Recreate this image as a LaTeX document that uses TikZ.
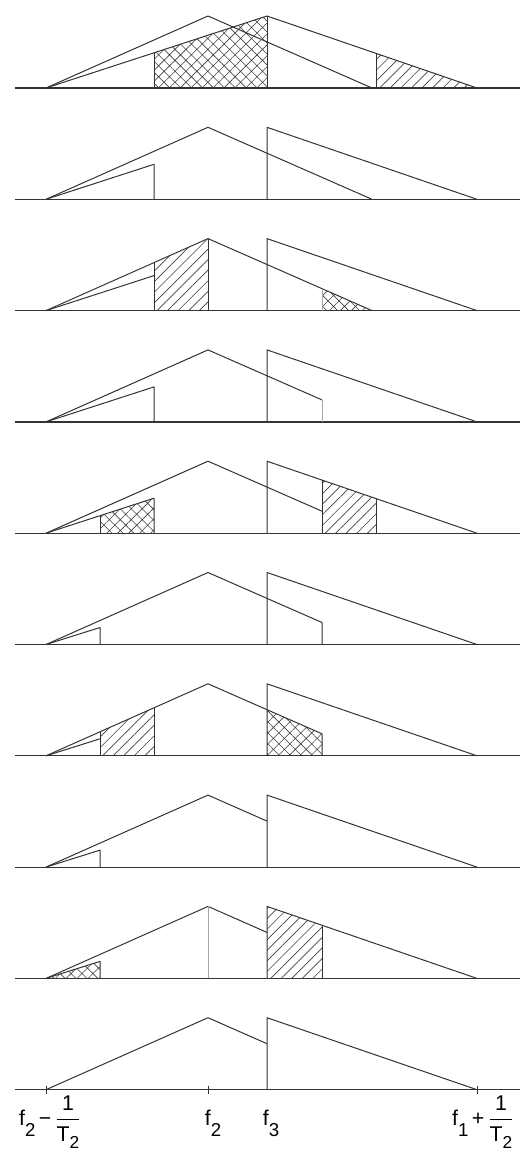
\documentclass[tikz,border=0pt]{standalone}
\usepackage{amsmath}
\usepackage{fontspec}
\setmainfont{Liberation Sans}
\usetikzlibrary{patterns.meta}
\newcommand{\lsub}[1]{\raisebox{-0.5em}{\fontsize{14}{14}\selectfont #1}}
\newcommand{\dsub}[1]{\raisebox{-0.35em}{\fontsize{13}{13}\selectfont #1}}
\def\xA{46}\def\xB{208}\def\xC{267}\def\xD{477}\def\xE{372}
\def\xP{154}\def\xQ{100}\def\xR{322}\def\xS{376}
\def\hH{72}
\def\hsP{35}\def\hsQ{17}
\def\hmP{48}\def\hmQ{24}\def\hmC{46}\def\hmR{22}
\def\htR{53}\def\htS{34.5}
\begin{document}
\begin{tikzpicture}[x=0.75pt,y=-0.75pt,
  ln/.style={line width=0.75pt, draw=black!80, line join=round},
  faint/.style={line width=0.6pt, draw=black!35},
  ax/.style={line width=0.9pt, draw=black!80},
  hatchA/.style={pattern={Lines[angle=45,distance=5.6pt,line width=0.5pt]},pattern color=black!75},
  xhatch/.style={pattern={Hatch[angle=45,distance=5.8pt,line width=0.45pt]},pattern color=black!75},
  lbl/.style={font=\fontsize{16}{18}\selectfont, inner sep=0pt, anchor=base}]
\useasboundingbox (0,0) rectangle (532,1154);

% panel 1
\begin{scope}[shift={(0,88)}]
  \fill[xhatch] (\xP,0) -- (\xP,-\hsP) -- (\xC,-\hH) -- (\xC,0) -- cycle;
  \fill[hatchA] (\xS,0) -- (\xS,-\htS) -- (\xD,0) -- cycle;
  \draw[ax] (15,0) -- (520,0);
  \draw[ln] (\xA,0) -- (\xB,-\hH) -- (\xE,0);
  \draw[ln] (\xA,0) -- (\xC,-\hH) -- (\xD,0);
  \draw[ln] (\xP,0) -- (\xP,-\hsP);
  \draw[ln] (\xC,0) -- (\xC,-\hH);
  \draw[ln] (\xS,0) -- (\xS,-\htS);
\end{scope}

% panel 2
\begin{scope}[shift={(0,199.3)}]
  \draw[ax] (15,0) -- (520,0);
  \draw[ln] (\xA,0) -- (\xB,-\hH) -- (\xE,0);
  \draw[ln] (\xA,0) -- (\xP,-\hsP) -- (\xP,0);
  \draw[ln] (\xC,0) -- (\xC,-\hH) -- (\xD,0);
\end{scope}

% panel 3
\begin{scope}[shift={(0,310.6)}]
  \fill[hatchA] (\xP,0) -- (\xP,-\hmP) -- (\xB,-\hH) -- (\xB,0) -- cycle;
  \fill[xhatch] (\xR,0) -- (\xR,-\hmR) -- (\xE,0) -- cycle;
  \draw[ax] (15,0) -- (520,0);
  \draw[ln] (\xA,0) -- (\xB,-\hH) -- (\xE,0);
  \draw[ln] (\xA,0) -- (\xP,-\hsP);
  \draw[ln] (\xP,0) -- (\xP,-\hmP);
  \draw[ln] (\xB,0) -- (\xB,-\hH);
  \draw[faint] (\xR,0) -- (\xR,-\hmR);
  \draw[ln] (\xC,0) -- (\xC,-\hH) -- (\xD,0);
\end{scope}

% panel 4
\begin{scope}[shift={(0,421.9)}]
  \draw[ax] (15,0) -- (520,0);
  \draw[ln] (\xA,0) -- (\xB,-\hH) -- (\xR,-\hmR);
  \draw[faint] (\xR,0) -- (\xR,-\hmR);
  \draw[ln] (\xA,0) -- (\xP,-\hsP) -- (\xP,0);
  \draw[ln] (\xC,0) -- (\xC,-\hH) -- (\xD,0);
\end{scope}

% panel 5
\begin{scope}[shift={(0,533.2)}]
  \fill[xhatch] (\xQ,0) -- (\xQ,-\hsQ) -- (\xP,-\hsP) -- (\xP,0) -- cycle;
  \fill[hatchA] (\xR,0) -- (\xR,-\htR) -- (\xS,-\htS) -- (\xS,0) -- cycle;
  \draw[ax] (15,0) -- (520,0);
  \draw[ln] (\xA,0) -- (\xB,-\hH) -- (\xR,-\hmR);
  \draw[ln] (\xA,0) -- (\xP,-\hsP) -- (\xP,0);
  \draw[ln] (\xQ,0) -- (\xQ,-\hsQ);
  \draw[ln] (\xR,0) -- (\xR,-\htR);
  \draw[ln] (\xS,0) -- (\xS,-\htS);
  \draw[ln] (\xC,0) -- (\xC,-\hH) -- (\xD,0);
\end{scope}

% panel 6
\begin{scope}[shift={(0,644.5)}]
  \draw[ax] (15,0) -- (520,0);
  \draw[ln] (\xA,0) -- (\xB,-\hH) -- (\xR,-\hmR) -- (\xR,0);
  \draw[ln] (\xA,0) -- (\xQ,-\hsQ) -- (\xQ,0);
  \draw[ln] (\xC,0) -- (\xC,-\hH) -- (\xD,0);
\end{scope}

% panel 7
\begin{scope}[shift={(0,755.8)}]
  \fill[hatchA] (\xQ,0) -- (\xQ,-\hmQ) -- (\xP,-\hmP) -- (\xP,0) -- cycle;
  \fill[xhatch] (\xC,0) -- (\xC,-\hmC) -- (\xR,-\hmR) -- (\xR,0) -- cycle;
  \draw[ax] (15,0) -- (520,0);
  \draw[ln] (\xA,0) -- (\xB,-\hH) -- (\xR,-\hmR) -- (\xR,0);
  \draw[ln] (\xA,0) -- (\xQ,-\hsQ);
  \draw[ln] (\xQ,0) -- (\xQ,-\hmQ);
  \draw[ln] (\xP,0) -- (\xP,-\hmP);
  \draw[ln] (\xC,0) -- (\xC,-\hH) -- (\xD,0);
\end{scope}

% panel 8
\begin{scope}[shift={(0,867.1)}]
  \draw[ax] (15,0) -- (520,0);
  \draw[ln] (\xA,0) -- (\xB,-\hH) -- (\xC,-\hmC);
  \draw[ln] (\xA,0) -- (\xQ,-\hsQ) -- (\xQ,0);
  \draw[ln] (\xC,0) -- (\xC,-\hH) -- (\xD,0);
\end{scope}

% panel 9
\begin{scope}[shift={(0,978.4)}]
  \fill[xhatch] (\xA,0) -- (\xQ,-\hsQ) -- (\xQ,0) -- cycle;
  \fill[hatchA] (\xC,0) -- (\xC,-\hH) -- (\xR,-\htR) -- (\xR,0) -- cycle;
  \draw[ax] (15,0) -- (520,0);
  \draw[ln] (\xA,0) -- (\xB,-\hH) -- (\xC,-\hmC);
  \draw[faint] (\xB,0) -- (\xB,-\hH);
  \draw[ln] (\xA,0) -- (\xQ,-\hsQ) -- (\xQ,0);
  \draw[ln] (\xR,0) -- (\xR,-\htR);
  \draw[ln] (\xC,0) -- (\xC,-\hH) -- (\xD,0);
\end{scope}

% panel 10
\begin{scope}[shift={(0,1089.7)}]
  \draw[ax] (15,0) -- (520,0);
  \draw[ln] (\xA,0) -- (\xB,-\hH) -- (\xC,-\hmC);
  \draw[ln] (\xC,0) -- (\xC,-\hH) -- (\xD,0);
  \draw[ln] (\xA,-4) -- (\xA,4);
  \draw[ln] (\xB,-4) -- (\xB,4);
  \draw[ln] (\xD,-4) -- (\xD,4);
  \node[lbl] (lA) at (50,36) {f\lsub{2}\,−\,$\dfrac{\text{1}}{\text{T\dsub{2}}}$};
  \node[lbl] (lB) at (213,36) {f\lsub{2}};
  \node[lbl] (lC) at (271,36) {f\lsub{3}};
  \node[lbl] (lD) at (483,36) {f\lsub{1}\,+\,$\dfrac{\text{1}}{\text{T\dsub{2}}}$};
\end{scope}
\end{tikzpicture}
\end{document}
